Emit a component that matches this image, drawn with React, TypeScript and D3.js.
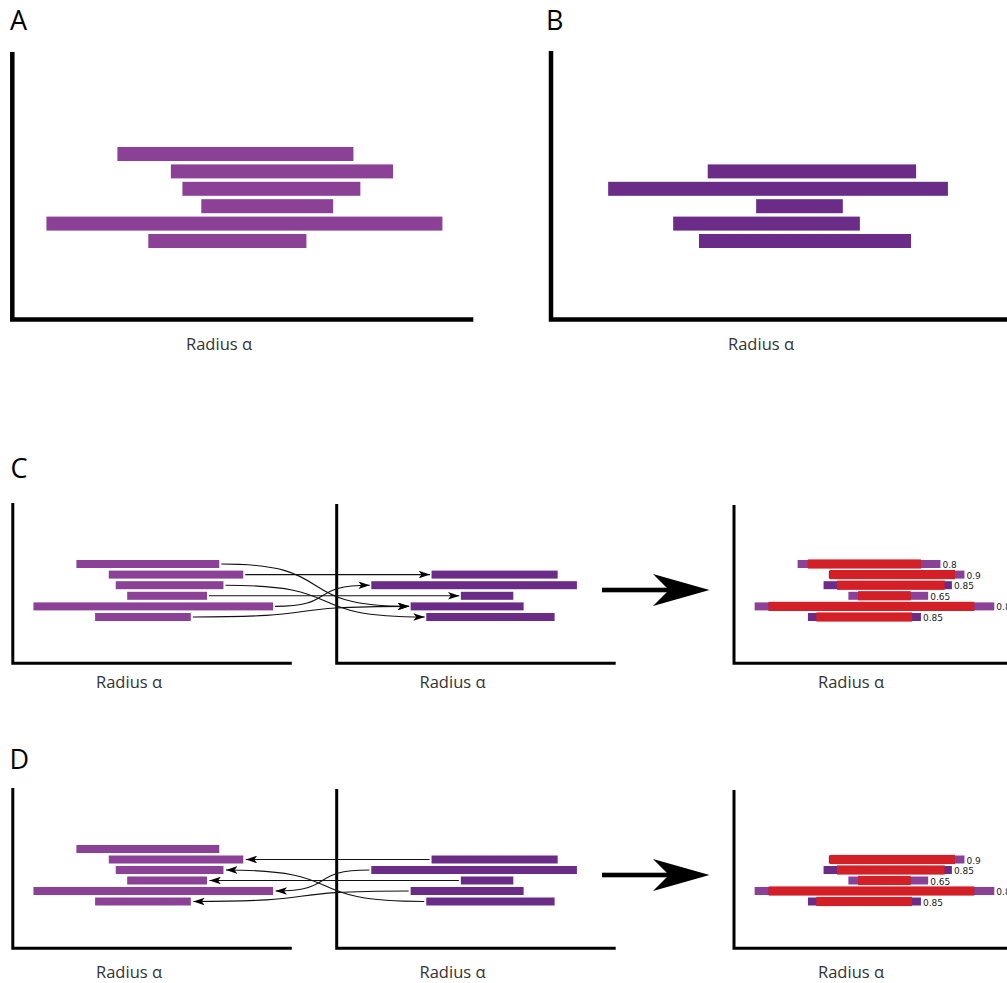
import React from 'react';
import * as d3 from 'd3';

const W = 1007;
const H = 983;

// Intervals of the first clustering (panel A), in radius units
const clusterAStart = [22.8, 34.4, 36.9, 41.0, 7.4, 29.5];
const clusterAEnd = [74.0, 82.6, 75.5, 69.6, 93.3, 63.8];
// Intervals of the second clustering (panel B); they sit in rows 2–6
const clusterBStart = [34.0, 12.4, 44.5, 26.5, 32.1];
const clusterBEnd = [79.2, 86.1, 63.3, 67.0, 78.1];
const clusterBRow = [1, 2, 3, 4, 5];
// Best match in B for every A interval (C), and in A for every B interval (D)
const matchAtoB = [3, 0, 4, 2, 1, 3];
const matchBtoA = [1, 4, 3, 5, 2];
// Overlap score of each A interval with its matched partner
const overlapScore = ['0.8', '0.9', '0.85', '0.65', '0.85', '0.85'];
const panelLetters = ['A', 'B', 'C', 'D'];
const axisLabel = 'Radius α';
const radiusDomain: [number, number] = [0, 100];
const rowIds = [0, 1, 2, 3, 4, 5];

const COLOR_A = '#8a4196';
const COLOR_B = '#6a2c87';
const COLOR_OVERLAP = '#d32027';
const INK = '#111';
const LABEL_FONT = "'Open Sans', 'Noto Sans', sans-serif";

type Panel = {
  x0: number;
  xEnd: number;
  top: number;
  base: number;
  rows: [number, number];
  barH: number;
  axisW: number;
  labelX: number;
  labelY: number;
};

const makeX = (p: Panel) => d3.scaleLinear().domain(radiusDomain).range([p.x0, p.xEnd]);
const makeRow = (p: Panel) => d3.scaleLinear().domain([0, 5]).range(p.rows);

const panelA: Panel = { x0: 12.3, xEnd: 473.3, top: 52, base: 319.5, rows: [147, 234], barH: 14, axisW: 4.5, labelX: 219, labelY: 350 };
const panelB: Panel = { x0: 551, xEnd: 1012, top: 51, base: 319.5, rows: [147, 234], barH: 14, axisW: 4.5, labelX: 761, labelY: 350 };

const smallRow = (top: number, base: number, rows: [number, number], labelY: number) => ({
  left: { x0: 12.8, xEnd: 291.8, top, base, rows, barH: 8, axisW: 3, labelX: 129, labelY } as Panel,
  mid: { x0: 336.7, xEnd: 615.7, top: top + 1, base, rows, barH: 8, axisW: 3, labelX: 452.5, labelY } as Panel,
  right: { x0: 734, xEnd: 1013, top: top + 2, base, rows, barH: 8, axisW: 3, labelX: 851, labelY } as Panel,
});

const rowC = smallRow(503, 663.3, [560, 613], 688);
const rowD = smallRow(788, 948.3, [845, 897.5], 978);

function Axes({ p }: { p: Panel }) {
  return (
    <g>
      <path
        d={`M${p.x0},${p.top} V${p.base} H${p.xEnd}`}
        fill="none"
        stroke="#000"
        strokeWidth={p.axisW}
        strokeLinejoin="miter"
      />
      <text x={p.labelX} y={p.labelY} textAnchor="middle" fontFamily={LABEL_FONT} fontSize={16.5} fill="#333">
        {axisLabel}
      </text>
    </g>
  );
}

function BarsA({ p }: { p: Panel }) {
  const x = makeX(p);
  const y = makeRow(p);
  return (
    <g>
      {rowIds.map((i) => (
        <rect key={i} x={x(clusterAStart[i])} y={y(i)} width={x(clusterAEnd[i]) - x(clusterAStart[i])} height={p.barH} fill={COLOR_A} />
      ))}
    </g>
  );
}

function BarsB({ p }: { p: Panel }) {
  const x = makeX(p);
  const y = makeRow(p);
  return (
    <g>
      {clusterBStart.map((s, j) => (
        <rect key={j} x={x(s)} y={y(clusterBRow[j])} width={x(clusterBEnd[j]) - x(s)} height={p.barH} fill={COLOR_B} />
      ))}
    </g>
  );
}

function linkPath(x1: number, y1: number, x2: number, y2: number) {
  if (Math.abs(y1 - y2) < 0.01) return `M${x1},${y1} H${x2}`;
  const k = 0.65;
  const dx = x2 - x1;
  return `M${x1},${y1} C${x1 + dx * k},${y1} ${x2 - dx * k},${y2} ${x2},${y2}`;
}

function LinksForward({ a, b }: { a: Panel; b: Panel }) {
  const xa = makeX(a);
  const xb = makeX(b);
  const y = makeRow(a);
  const h = a.barH / 2;
  return (
    <g fill="none" stroke={INK} strokeWidth={1.1}>
      {matchAtoB.map((j, i) => (
        <path
          key={i}
          d={linkPath(xa(clusterAEnd[i]) + 2, y(i) + h, xb(clusterBStart[j]) - 1.5, y(clusterBRow[j]) + h)}
          markerEnd="url(#tipHead)"
        />
      ))}
    </g>
  );
}

function LinksBackward({ a, b }: { a: Panel; b: Panel }) {
  const xa = makeX(a);
  const xb = makeX(b);
  const y = makeRow(a);
  const h = a.barH / 2;
  return (
    <g fill="none" stroke={INK} strokeWidth={1.1}>
      {matchBtoA.map((i, j) => (
        <path
          key={j}
          d={linkPath(xb(clusterBStart[j]) - 2, y(clusterBRow[j]) + h, xa(clusterAEnd[i]) + 2.5, y(i) + h)}
          markerEnd="url(#tipHead)"
        />
      ))}
    </g>
  );
}

function OverlapBars({ p, pairs }: { p: Panel; pairs: [number, number][] }) {
  const x = makeX(p);
  const y = makeRow(p);
  return (
    <g>
      {pairs.map(([i, j]) => {
        const top = y(i);
        const lo = Math.max(clusterAStart[i], clusterBStart[j]);
        const hi = Math.min(clusterAEnd[i], clusterBEnd[j]);
        const outer = Math.max(clusterAEnd[i], clusterBEnd[j]);
        return (
          <g key={i}>
            <rect x={x(clusterAStart[i])} y={top} width={x(clusterAEnd[i]) - x(clusterAStart[i])} height={p.barH} fill={COLOR_A} />
            <rect x={x(clusterBStart[j])} y={top} width={x(clusterBEnd[j]) - x(clusterBStart[j])} height={p.barH} fill={COLOR_B} />
            <rect x={x(lo)} y={top - 0.6} width={x(hi) - x(lo)} height={p.barH + 1.2} fill={COLOR_OVERLAP} />
            <text x={x(outer) + 2} y={top + p.barH} fontFamily="'DejaVu Sans', sans-serif" fontSize={9} fill="#1a1a1a">
              {overlapScore[i]}
            </text>
          </g>
        );
      })}
    </g>
  );
}

function BigArrow({ y }: { y: number }) {
  return (
    <g fill="#000">
      <rect x={602} y={y - 2.3} width={68} height={4.6} />
      <path d={`M709.5,${y} L653,${y - 16} Q663,${y - 6} 669,${y} Q663,${y + 6} 653,${y + 16} Z`} />
    </g>
  );
}

export default function App() {
  const pairsC: [number, number][] = matchAtoB.map((j, i) => [i, j]);
  const pairsD: [number, number][] = matchBtoA.map((i, j) => [i, j] as [number, number]).sort((u, v) => u[0] - v[0]);
  const letterStyle = { fontFamily: LABEL_FONT, fontSize: 27, fill: '#000' };
  return (
    <div style={{ position: 'absolute', left: 0, top: 0, width: W, height: H, overflow: 'hidden', background: '#fff' }}>
      <svg width={W} height={H} style={{ display: 'block' }}>
        <defs>
          <marker id="tipHead" viewBox="0 0 12 8" refX={12} refY={4} markerWidth={11.5} markerHeight={7.6} orient="auto" markerUnits="userSpaceOnUse">
            <path d="M0,0 L12,4 L0,8 L3,4 Z" fill="#000" />
          </marker>
        </defs>

        <text x={10} y={30} {...letterStyle}>{panelLetters[0]}</text>
        <text x={546} y={30} {...letterStyle}>{panelLetters[1]}</text>
        <text x={10.5} y={478} {...letterStyle}>{panelLetters[2]}</text>
        <text x={9.5} y={769} {...letterStyle}>{panelLetters[3]}</text>

        {/* A: first clustering */}
        <BarsA p={panelA} />
        <Axes p={panelA} />

        {/* B: second clustering */}
        <BarsB p={panelB} />
        <Axes p={panelB} />

        {/* C: matching A onto B */}
        <BarsA p={rowC.left} />
        <BarsB p={rowC.mid} />
        <Axes p={rowC.left} />
        <Axes p={rowC.mid} />
        <LinksForward a={rowC.left} b={rowC.mid} />
        <BigArrow y={590} />
        <OverlapBars p={rowC.right} pairs={pairsC} />
        <Axes p={rowC.right} />

        {/* D: matching B onto A */}
        <BarsA p={rowD.left} />
        <BarsB p={rowD.mid} />
        <Axes p={rowD.left} />
        <Axes p={rowD.mid} />
        <LinksBackward a={rowD.left} b={rowD.mid} />
        <BigArrow y={875} />
        <OverlapBars p={rowD.right} pairs={pairsD} />
        <Axes p={rowD.right} />
      </svg>
    </div>
  );
}
